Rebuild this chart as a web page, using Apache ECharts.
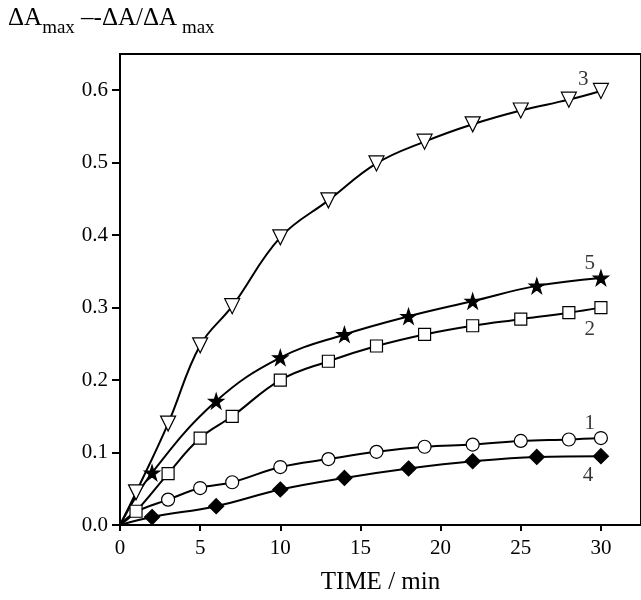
<!DOCTYPE html>
<html><head><meta charset="utf-8">
<script src="https://cdn.jsdelivr.net/npm/echarts@6/dist/echarts.min.js"></script>
<style>html,body{margin:0;padding:0;background:#fff}#c{width:641px;height:600px}</style>
</head><body><div id="c"></div>
<script>
// Data
var timeA = [0, 1, 3, 5, 7, 10, 13, 16, 19, 22, 25, 28, 30];
var timeB = [0, 2, 6, 10, 14, 18, 22, 26, 30];
var curve3 = [0, 0.045, 0.14, 0.248, 0.302, 0.397, 0.448, 0.499, 0.529, 0.553, 0.572, 0.587, 0.599];
var curve2 = [0, 0.019, 0.071, 0.12, 0.15, 0.20, 0.226, 0.247, 0.263, 0.275, 0.284, 0.293, 0.30];
var curve1 = [0, 0.018, 0.035, 0.051, 0.059, 0.080, 0.091, 0.101, 0.108, 0.111, 0.116, 0.118, 0.12];
var curve5 = [0, 0.072, 0.171, 0.231, 0.263, 0.288, 0.309, 0.33, 0.341];
var curve4 = [0, 0.011, 0.026, 0.049, 0.065, 0.078, 0.088, 0.094, 0.095];
var curveNames = ['1', '2', '3', '4', '5'];
var yTicks = [0, 0.1, 0.2, 0.3, 0.4, 0.5, 0.6];
var xTicks = [0, 5, 10, 15, 20, 25, 30];

function pts(t, v, noMarkerIdx) {
  return t.map(function (x, i) {
    var d = { value: [x, v[i]] };
    if (i === 0 || (noMarkerIdx && noMarkerIdx.indexOf(i) >= 0)) d.symbol = 'none';
    return d;
  });
}
var star = 'path://M50,0 L61.8,35.1 L98.9,35.1 L68.9,56.7 L80.3,91.9 L50,70.2 L19.7,91.9 L31.1,56.7 L1.1,35.1 L38.2,35.1 Z';
var serif = '"Liberation Serif", "DejaVu Serif", serif';
var chart = echarts.init(document.getElementById('c'), null, { renderer: 'canvas' });
function mk(name, data, symbol, size, filled, rotate) {
  return {
    name: name, type: 'line', data: data, smooth: 0.4,
    symbol: symbol, symbolSize: size, symbolRotate: rotate || 0,
    lineStyle: { color: '#000', width: 2 },
    itemStyle: { color: filled ? '#000' : '#fff', borderColor: '#000', borderWidth: 1.2 },
    z: 3
  };
}
chart.setOption({
  animation: false,
  backgroundColor: '#fff',
  grid: { left: 120, top: 54, right: -3, bottom: 71, show: true, borderColor: '#000', borderWidth: 2, backgroundColor: 'transparent' },
  xAxis: {
    type: 'value', min: 0, max: 32.5, interval: 5,
    axisLine: { lineStyle: { color: '#000', width: 2 } },
    axisTick: { lineStyle: { color: '#000', width: 2 }, length: 6 },
    splitLine: { show: false },
    axisLabel: { color: '#000', fontFamily: serif, fontSize: 21, margin: 13, showMaxLabel: false,
      formatter: function (v) { return xTicks.indexOf(v) >= 0 ? String(v) : ''; } },
    name: 'TIME / min', nameLocation: 'middle', nameGap: 45,
    nameTextStyle: { color: '#000', fontFamily: serif, fontSize: 25 }
  },
  yAxis: {
    type: 'value', min: 0, max: 0.65, interval: 0.1,
    axisLine: { lineStyle: { color: '#000', width: 2 } },
    axisTick: { lineStyle: { color: '#000', width: 2 }, length: 8 },
    splitLine: { show: false },
    axisLabel: { color: '#000', fontFamily: serif, fontSize: 21, margin: 12, showMaxLabel: false,
      formatter: function (v) { var r = Math.round(v * 10) / 10; return yTicks.indexOf(r) >= 0 ? r.toFixed(1) : ''; } }
  },
  graphic: [
    { type: 'text', left: 8, top: 6, style: {
      text: '{b|ΔA}{s|max}{b| –-ΔA/ΔA}{s| max}',
      rich: {
        b: { fontFamily: serif, fontSize: 25, fill: '#000', verticalAlign: 'bottom', lineHeight: 30 },
        s: { fontFamily: serif, fontSize: 19, fill: '#000', verticalAlign: 'bottom', lineHeight: 22, padding: [0, 0, -7, 0] }
      } } }
  ],
  series: [
    mk(curveNames[2], pts(timeA, curve3), 'triangle', 15, false, 180),
    mk(curveNames[1], pts(timeA, curve2), 'rect', 12, false),
    mk(curveNames[0], pts(timeA, curve1, [1]), 'circle', 13, false),
    mk(curveNames[4], pts(timeB, curve5), star, 15, true),
    mk(curveNames[3], pts(timeB, curve4), 'diamond', 15, true),
    {
      type: 'scatter', symbol: 'circle', symbolSize: 1, silent: true,
      itemStyle: { color: 'rgba(0,0,0,0)' },
      data: [
        { value: [28.9, 0.615], label: { formatter: '3' } },
        { value: [29.3, 0.361], label: { formatter: '5' } },
        { value: [29.3, 0.270], label: { formatter: '2' } },
        { value: [29.3, 0.140], label: { formatter: '1' } },
        { value: [29.2, 0.069], label: { formatter: '4' } }
      ],
      label: { show: true, position: 'inside', color: '#000', fontFamily: serif, fontSize: 21 },
      z: 5
    }
  ]
});
</script></body></html>
